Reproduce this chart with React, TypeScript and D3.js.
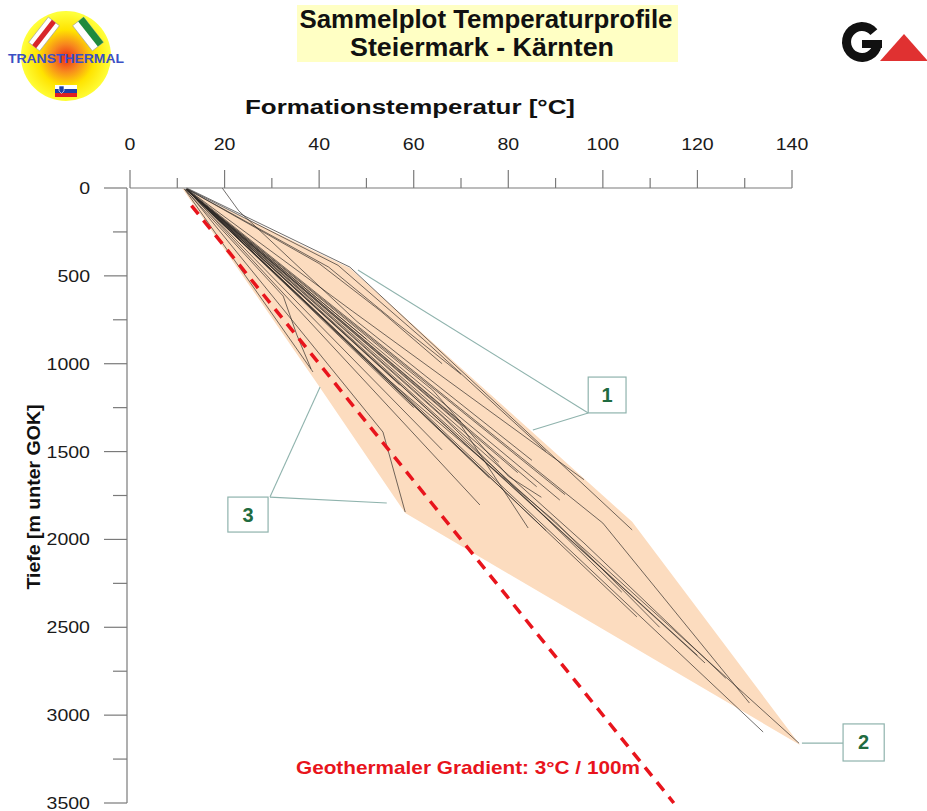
import React from "react";
import * as d3 from "d3";

// Axis ticks
const tempTicks = [0, 20, 40, 60, 80, 100, 120, 140];
const tempMinorTicks = [10, 30, 50, 70, 90, 110, 130];
const depthTicks = [0, 500, 1000, 1500, 2000, 2500, 3000, 3500];
const depthMinorTicks = [250, 750, 1250, 1750, 2250, 2750, 3250];

// Envelope of all profiles: [temperature °C, depth m]
const envelope: [number, number][] = [
  [11, 0],
  [46.5, 455],
  [106.2, 1900],
  [141.7, 3170],
  [58.2, 1850],
  [39.8, 1121],
];

// Measured temperature profiles: [temperature °C, depth m]
const profiles: [number, number][][] = [
  // steep, shallow wells
  [[11.5, 5], [38.7, 1047]],
  [[11.5, 5], [32.4, 615], [35.3, 837], [38.3, 1030]],
  [[11.8, 8], [53.5, 1389], [58.2, 1844]],
  [[12, 8], [74, 1804]],
  // main bundle
  [[12, 10], [50, 860]],
  [[12, 10], [57, 1120]],
  [[12, 10], [60, 1250]],
  [[12, 10], [66, 1490]],
  [[12, 10], [70, 1330]],
  [[12, 10], [76, 1650]],
  [[12, 10], [78, 1560]],
  [[12, 10], [82, 1620]],
  [[12, 10], [70, 1350], [84.2, 1935]],
  [[12, 10], [64, 1150], [80, 1640], [87, 1760]],
  [[12, 10], [88, 1950]],
  [[12, 10], [90.9, 1776]],
  [[12, 10], [92, 1745]],
  [[12, 10], [86, 1700]],
  // upper edge, kinked
  [[12, 0], [46.5, 450], [106.2, 1946]],
  [[12, 3], [44, 440], [62, 860], [88, 1500]],
  [[12, 5], [42, 450], [56, 760], [70, 1060]],
  [[19.5, 0], [23, 130], [48, 760], [85, 1550]],
  [[12, 5], [40, 430], [53, 700], [66, 1000]],
  [[12, 5], [47, 700], [96, 1660]],
  [[12, 5], [100, 1907], [131, 2931]],
  // deep wells
  [[12, 10], [141.5, 3160]],
  [[12, 10], [133.9, 3096]],
  [[12, 10], [121.6, 2703]],
  [[12, 10], [120, 2660]],
  [[12, 10], [107.2, 2441]],
  [[12, 10], [60, 1150], [96, 2020], [126, 2790]],
  [[12, 10], [55, 1100], [90, 1900], [112, 2500]],
  [[12, 10], [66, 1300], [104, 2300]],
];

// Reference geothermal gradient
const gradientSurfaceTemp = 10;
const gradientPer100m = 3;
const gradientDepths = [100, 3500];

// Numbered callouts: box corners [T0, d0, T1, d1] and leader lines
const calloutLabels = ["1", "2", "3"];
const calloutBoxes: [number, number, number, number][] = [
  [96.9, 1076, 104.9, 1280],
  [150.8, 3050, 159.5, 3261],
  [20.7, 1759, 29.2, 1958],
];
const calloutLeaders: [number, number][][][] = [
  [
    [[96.9, 1280], [48.2, 467]],
    [[96.9, 1280], [85.2, 1377]],
  ],
  [[[142.1, 3159], [150.8, 3159]]],
  [
    [[29.6, 1759], [40.2, 1133]],
    [[29.6, 1759], [54.3, 1793]],
  ],
];

const FONT = "'Liberation Sans', Arial, Helvetica, sans-serif";

export default function App() {
  const x = d3.scaleLinear().domain([0, 140]).range([130, 792]);
  const y = d3.scaleLinear().domain([0, 3500]).range([188, 803]);
  const yAxisX = 127;

  const line = d3
    .line<[number, number]>()
    .x((p) => x(p[0]))
    .y((p) => y(p[1]));

  const envelopePath = line(envelope) + "Z";
  const gradientPts: [number, number][] = gradientDepths.map((d) => [
    gradientSurfaceTemp + (gradientPer100m * d) / 100,
    d,
  ]);

  const gArc = d3.arc()({
    innerRadius: 11,
    outerRadius: 20,
    startAngle: (100 * Math.PI) / 180,
    endAngle: (410 * Math.PI) / 180,
  }) as string;

  return (
    <svg
      width={927}
      height={811}
      style={{ position: "fixed", left: 0, top: 0, background: "#fff" }}
      fontFamily={FONT}
    >
      <defs>
        <radialGradient id="sunGlow" cx="50%" cy="52%" r="50%">
          <stop offset="0%" stopColor="#ec2a16" />
          <stop offset="30%" stopColor="#f7861e" />
          <stop offset="62%" stopColor="#ffe300" />
          <stop offset="100%" stopColor="#ffff3a" />
        </radialGradient>
      </defs>

      {/* Left logo */}
      <g>
        <circle cx={66} cy={56} r={45} fill="url(#sunGlow)" />
        <g transform="translate(44,34) rotate(38)">
          <rect x={-7} y={-16} width={14} height={32} fill="#fff" stroke="#999" strokeWidth={0.6} />
          <rect x={-2.5} y={-16} width={5} height={32} fill="#d8262a" />
        </g>
        <g transform="translate(88,34) rotate(-38)">
          <rect x={-7} y={-16} width={14} height={32} fill="#fff" stroke="#999" strokeWidth={0.6} />
          <rect x={0} y={-16} width={7} height={32} fill="#1f8a3c" />
        </g>
        <text
          x={66}
          y={63}
          textAnchor="middle"
          fontSize={12}
          fontWeight="bold"
          fill="#3b4fc4"
          textLength={116}
          lengthAdjust="spacingAndGlyphs"
        >
          TRANSTHERMAL
        </text>
        <rect x={55} y={85} width={22} height={4} fill="#fff" />
        <rect x={55} y={89} width={22} height={4} fill="#1d3fa8" />
        <rect x={55} y={93} width={22} height={4} fill="#e02020" />
        <path d="M59,86 h5 v5 l-2.5,2.5 l-2.5,-2.5 Z" fill="#1d3fa8" stroke="#fff" strokeWidth={0.6} />
      </g>

      {/* Right logo */}
      <g>
        <path d={gArc} transform="translate(862,42)" fill="#111" />
        <rect x={862} y={40} width={20} height={8} fill="#111" />
        <polygon points="880,61 904,34 928,61" fill="#e03131" />
      </g>

      {/* Title */}
      <rect x={297} y={5} width={381} height={57} fill="#ffffc4" />
      <text
        x={486}
        y={28}
        textAnchor="middle"
        fontSize={25}
        fontWeight="bold"
        fill="#111"
        textLength={373}
        lengthAdjust="spacingAndGlyphs"
      >
        Sammelplot Temperaturprofile
      </text>
      <text
        x={482}
        y={56}
        textAnchor="middle"
        fontSize={25}
        fontWeight="bold"
        fill="#111"
        textLength={264}
        lengthAdjust="spacingAndGlyphs"
      >
        Steiermark - Kärnten
      </text>

      {/* Envelope */}
      <path d={envelopePath} fill="#fcdcbf" stroke="none" />

      {/* Profiles */}
      <g fill="none" stroke="#2e2a26" strokeWidth={0.85} strokeOpacity={0.8}>
        {profiles.map((p, i) => (
          <path key={i} d={line(p) as string} />
        ))}
      </g>

      {/* Geothermal gradient */}
      <path
        d={line(gradientPts) as string}
        fill="none"
        stroke="#e8141c"
        strokeWidth={3.5}
        strokeDasharray="11,8"
      />
      <text
        x={468}
        y={774}
        textAnchor="middle"
        fontSize={19}
        fontWeight="bold"
        fill="#e8141c"
        textLength={344}
        lengthAdjust="spacingAndGlyphs"
      >
        Geothermaler Gradient: 3°C / 100m
      </text>

      {/* Callouts */}
      <g stroke="#8fb3ad" strokeWidth={1.1} fill="none">
        {calloutLeaders.map((ls, i) =>
          ls.map((l, j) => <path key={`${i}-${j}`} d={line(l) as string} />)
        )}
      </g>
      {calloutBoxes.map((b, i) => (
        <g key={i}>
          <rect
            x={x(b[0])}
            y={y(b[1])}
            width={x(b[2]) - x(b[0])}
            height={y(b[3]) - y(b[1])}
            fill="#fff"
            stroke="#8fb3ad"
            strokeWidth={1.2}
          />
          <text
            x={(x(b[0]) + x(b[2])) / 2}
            y={(y(b[1]) + y(b[3])) / 2 + 7}
            textAnchor="middle"
            fontSize={20}
            fontWeight="bold"
            fill="#1f6b40"
          >
            {calloutLabels[i]}
          </text>
        </g>
      ))}

      {/* Top temperature axis */}
      <g stroke="#7a7a7a" strokeWidth={1.2}>
        <line x1={x(0)} x2={x(140)} y1={y(0)} y2={y(0)} />
        {tempTicks.map((t) => (
          <line key={t} x1={x(t)} x2={x(t)} y1={y(0)} y2={y(0) - 18} />
        ))}
        {tempMinorTicks.map((t) => (
          <line key={t} x1={x(t)} x2={x(t)} y1={y(0)} y2={y(0) - 10} />
        ))}
      </g>
      {tempTicks.map((t) => (
        <text
          key={t}
          transform={`translate(${x(t)},150) scale(1.15,1)`}
          textAnchor="middle"
          fontSize={17}
          fill="#1a1a1a"
        >
          {t}
        </text>
      ))}
      <text
        x={410}
        y={114}
        textAnchor="middle"
        fontSize={20}
        fontWeight="bold"
        fill="#111"
        textLength={330}
        lengthAdjust="spacingAndGlyphs"
      >
        Formationstemperatur [°C]
      </text>

      {/* Left depth axis */}
      <g stroke="#7a7a7a" strokeWidth={1.2}>
        <line x1={yAxisX} x2={yAxisX} y1={y(0)} y2={y(3500)} />
        {depthTicks.map((d) => (
          <line key={d} x1={yAxisX - 23} x2={yAxisX} y1={y(d)} y2={y(d)} />
        ))}
        {depthMinorTicks.map((d) => (
          <line key={d} x1={yAxisX - 14} x2={yAxisX} y1={y(d)} y2={y(d)} />
        ))}
      </g>
      {depthTicks.map((d) => (
        <text
          key={d}
          transform={`translate(90,${y(d) + 6}) scale(1.15,1)`}
          textAnchor="end"
          fontSize={17}
          fill="#1a1a1a"
        >
          {d}
        </text>
      ))}
      <text
        transform={`translate(40,497) rotate(-90)`}
        textAnchor="middle"
        fontSize={19}
        fontWeight="bold"
        fill="#111"
        textLength={185}
        lengthAdjust="spacingAndGlyphs"
      >
        Tiefe [m unter GOK]
      </text>
    </svg>
  );
}
